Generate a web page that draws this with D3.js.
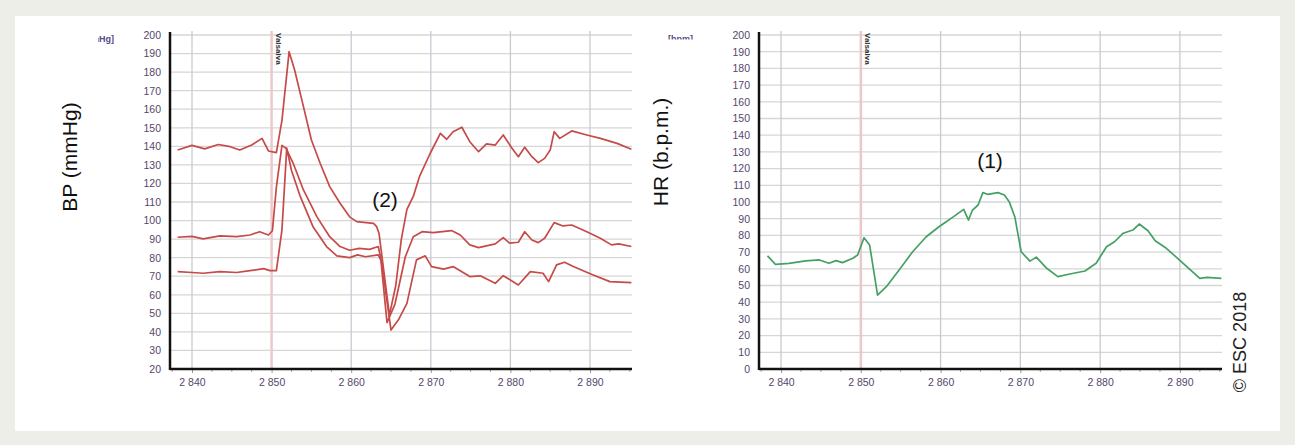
<!DOCTYPE html>
<html><head><meta charset="utf-8">
<script src="https://cdn.jsdelivr.net/npm/d3@7"></script>
<style>body{margin:0;background:#eeeee9;} svg{display:block}</style>
</head><body>
<svg id="c" width="1295" height="445"></svg>
<script>
// ---- data ----
const timeTicks = [2840, 2850, 2860, 2870, 2880, 2890];
const bpTicks = [20,30,40,50,60,70,80,90,100,110,120,130,140,150,160,170,180,190,200];
const hrTicks = [0,10,20,30,40,50,60,70,80,90,100,110,120,130,140,150,160,170,180,190,200];
const valsalvaTime = 2850;

const systolic = [[2838.2,138],[2840,140.5],[2841.6,138.6],[2843.3,141],[2844.8,139.8],[2846,138],[2847.5,140.7],[2848.8,144.3],[2849.6,137.5],[2850.6,136.6],[2851.3,154],[2852.2,191],[2852.9,181],[2854,161.4],[2855,143.4],[2856.1,130.9],[2857.3,118.3],[2858.6,109.3],[2859.8,102],[2860.7,99.4],[2862.8,98.5],[2863.2,96.7],[2863.5,93],[2864.8,49],[2865.6,65],[2866.3,90],[2867,106],[2867.8,113],[2868.6,124],[2869.9,136],[2871.2,147],[2872,143.8],[2872.8,147.9],[2873.9,150.3],[2874.9,142.5],[2876,137.1],[2877,141.3],[2878.1,140.7],[2879.1,146.1],[2880.2,139],[2881,134.4],[2881.8,139.5],[2882.7,134.4],[2883.5,131.2],[2884.3,133.5],[2885,138],[2885.5,147.9],[2886.2,144.3],[2887.7,148.3],[2889.6,146.1],[2891.3,144.3],[2893.4,141.6],[2895.2,138.4]];

const meanBP = [[2838.2,91],[2840,91.5],[2841.4,90.1],[2843.5,91.7],[2845.6,91.3],[2847.3,92.2],[2848.5,94],[2849.6,92.2],[2850.1,94.5],[2850.6,118],[2851.3,140.5],[2851.8,139],[2852.7,131],[2854,116.5],[2855.7,102],[2857.3,91.3],[2858.6,86],[2859.8,84],[2861,85],[2862.3,84.5],[2863.4,86],[2863.7,80],[2864.5,45],[2865.5,55],[2866.8,80.5],[2867.8,91.3],[2868.9,94],[2870.3,93.5],[2872.6,94.6],[2873.7,92.2],[2874.9,86.9],[2876,85.4],[2878.1,87.4],[2879.1,90.8],[2879.9,87.8],[2881,88.3],[2881.8,94],[2882.7,89.5],[2883.5,88.1],[2884.3,90.5],[2885.5,98.9],[2886.6,97.1],[2887.7,97.6],[2889.6,94],[2891.3,90.5],[2892.7,86.9],[2893.6,87.4],[2895.2,86]];

const diastolic = [[2838.2,72.5],[2840,72],[2841.4,71.6],[2843.5,72.5],[2845.6,72],[2847.3,73],[2849,74.1],[2849.8,73],[2850.6,73],[2851.3,95],[2851.9,139],[2852.5,127],[2853.6,113],[2855.2,96.7],[2856.9,86],[2858.2,81],[2859.8,80],[2860.8,81.5],[2861.8,80.5],[2863.4,81.5],[2863.8,78],[2865,41],[2866,47],[2867,55.4],[2868.2,78.8],[2869.3,81],[2870.1,75.2],[2871.6,73.8],[2872.8,75.2],[2874.9,69.8],[2876.2,70.2],[2878.1,66.2],[2879.1,70.3],[2881,65.3],[2882.5,72.5],[2884.1,71.6],[2884.8,67.1],[2885.8,76.1],[2886.8,77.5],[2887.9,75.2],[2890.4,70.7],[2892.5,67.1],[2895.2,66.5]];

const heartRate = [[2838.3,67.7],[2839.3,62.7],[2841,63.3],[2843.1,64.7],[2844.8,65.3],[2846,63.3],[2846.9,64.9],[2847.7,63.7],[2849,66.3],[2849.6,68.3],[2850.4,78.6],[2851.1,74.3],[2852.1,44.3],[2853.2,49.3],[2854.8,59.3],[2856.5,70.2],[2858.2,79.2],[2859.8,85.2],[2860.7,88.2],[2861.5,90.8],[2862.2,93.2],[2862.9,95.6],[2863.5,89.2],[2864,95.2],[2864.7,98.2],[2865.3,105.6],[2865.9,104.6],[2867.2,105.6],[2868,104.2],[2868.6,100.2],[2869.3,91.2],[2870.1,70.2],[2871.2,64.6],[2872,67],[2873.3,60.3],[2874.7,55.3],[2876.2,56.9],[2878.1,58.7],[2879.5,63.3],[2880.8,73.2],[2881.8,76.2],[2882.9,81.3],[2884.1,83.2],[2884.9,86.8],[2886,82.8],[2886.9,76.8],[2888.3,72.3],[2892.5,54.3],[2893.4,54.9],[2895.2,54.3]];

// ---- drawing ----
const svg = d3.select("#c");
svg.append("rect").attr("x",15).attr("y",16).attr("width",1265).attr("height",415).attr("fill","#ffffff");

const fmt = d3.formatLocale({decimal:".", thousands:" ", grouping:[3], currency:["",""]}).format(",");
const tickColor = "#55476e";

function panel(opts) {
  const {left, right, top, bottom, yDomain, yTicks, series, unit, unitClip} = opts;
  const x = d3.scaleLinear().domain([2837.236, 2895.276]).range([left, right]);
  const y = d3.scaleLinear().domain(yDomain).range([bottom, top]);
  const g = svg.append("g");

  // horizontal grid
  g.append("g").selectAll("line").data(yTicks).join("line")
    .attr("x1", left).attr("x2", right)
    .attr("y1", d => y(d)).attr("y2", d => y(d))
    .attr("stroke", "#d6d6d6").attr("stroke-width", 1.3);
  // vertical grid
  g.append("g").selectAll("line").data(timeTicks.filter(t => t !== valsalvaTime)).join("line")
    .attr("x1", d => x(d)).attr("x2", d => x(d))
    .attr("y1", top - 4).attr("y2", bottom)
    .attr("stroke", "#c9c9d2").attr("stroke-width", 1.3);
  // valsalva marker
  g.append("line").attr("x1", x(valsalvaTime)).attr("x2", x(valsalvaTime))
    .attr("y1", top - 4).attr("y2", bottom)
    .attr("stroke", "#ebc9cb").attr("stroke-width", 2.5);
  g.append("text").attr("transform", `translate(${x(valsalvaTime)+4},${top-2}) rotate(90)`)
    .attr("font-family", "Liberation Sans, Arial, sans-serif").attr("font-size", 8)
    .attr("font-weight", "bold").attr("fill", "#333").text("Valsalva");

  // series
  const line = d3.line().x(d => x(d[0])).y(d => y(d[1]));
  series.forEach(s => {
    g.append("path").datum(s.data).attr("d", line)
      .attr("fill", "none").attr("stroke", s.color).attr("stroke-width", 1.7)
      .attr("stroke-linejoin", "round");
  });

  // x axis
  const xAxis = d3.axisBottom(x).tickValues(timeTicks).tickFormat(fmt).tickSize(4).tickPadding(6);
  const xg = g.append("g").attr("transform", `translate(0,${bottom})`).call(xAxis);
  xg.select(".domain").remove();
  xg.selectAll(".tick line").attr("stroke", "#999");
  xg.selectAll("text").attr("font-family", "Liberation Sans, Arial, sans-serif")
    .attr("font-size", 10.5).attr("fill", tickColor);
  const minor = d3.range(2837.5, 2895.3, 2.5).filter(t => !timeTicks.includes(t));
  g.append("g").selectAll("line").data(minor).join("line")
    .attr("x1", d => x(d)).attr("x2", d => x(d)).attr("y1", bottom).attr("y2", bottom + 3)
    .attr("stroke", "#aaa");
  g.append("line").attr("x1", left).attr("x2", right).attr("y1", bottom).attr("y2", bottom)
    .attr("stroke", "#111").attr("stroke-width", 2.5);

  // y axis
  const yAxis = d3.axisLeft(y).tickValues(yTicks).tickSize(0).tickPadding(9);
  const yg = g.append("g").attr("transform", `translate(${left},0)`).call(yAxis);
  yg.select(".domain").remove();
  yg.selectAll("text").attr("font-family", "Liberation Sans, Arial, sans-serif")
    .attr("font-size", 10.5).attr("fill", tickColor);
  g.append("line").attr("x1", left).attr("x2", left).attr("y1", top - 3).attr("y2", bottom + 1)
    .attr("stroke", "#111").attr("stroke-width", 2.5);

  // clipped unit label
  const cid = "clip" + Math.round(left);
  svg.append("clipPath").attr("id", cid).append("rect")
    .attr("x", unitClip[0]).attr("y", unitClip[1]).attr("width", unitClip[2]).attr("height", unitClip[3]);
  svg.append("text").attr("clip-path", `url(#${cid})`)
    .attr("x", unit.x).attr("y", unit.y).attr("text-anchor", "end")
    .attr("font-family", "Liberation Sans, Arial, sans-serif").attr("font-size", 9)
    .attr("font-weight", "bold").attr("fill", "#5b4a86").text(unit.text);
  return {x, y};
}

panel({left:170, right:632, top:35, bottom:369, yDomain:[20,200], yTicks:bpTicks,
  series:[{data:systolic, color:"#c54a48"},{data:meanBP, color:"#c54a48"},{data:diastolic, color:"#c54a48"}],
  unit:{x:114, y:42, text:"[mmHg]"}, unitClip:[98, 30, 30, 20]});

panel({left:759, right:1222, top:35, bottom:369, yDomain:[0,200], yTicks:hrTicks,
  series:[{data:heartRate, color:"#45a065"}],
  unit:{x:693, y:42, text:"[bpm]"}, unitClip:[640, 30, 60, 9.5]});

const big = "Liberation Sans, Arial, sans-serif";
svg.append("text").attr("transform", "translate(77,157) rotate(-90)").attr("text-anchor", "middle")
  .attr("font-family", big).attr("font-size", 21).attr("fill", "#111").text("BP (mmHg)");
svg.append("text").attr("transform", "translate(668,152) rotate(-90)").attr("text-anchor", "middle")
  .attr("font-family", big).attr("font-size", 21).attr("fill", "#111").text("HR (b.p.m.)");
svg.append("text").attr("x", 385).attr("y", 207).attr("text-anchor", "middle")
  .attr("font-family", big).attr("font-size", 21).attr("fill", "#111").text("(2)");
svg.append("text").attr("x", 990).attr("y", 168).attr("text-anchor", "middle")
  .attr("font-family", big).attr("font-size", 21).attr("fill", "#111").text("(1)");
svg.append("text").attr("transform", "translate(1246,342) rotate(-90)").attr("text-anchor", "middle")
  .attr("font-family", big).attr("font-size", 18).attr("fill", "#222").text("© ESC 2018");
</script>
</body></html>
